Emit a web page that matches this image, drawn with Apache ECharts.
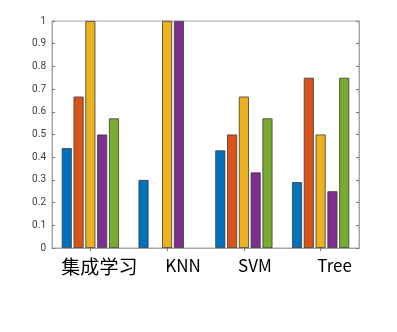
<!DOCTYPE html>
<html><head><meta charset="utf-8">
<script src="https://cdn.jsdelivr.net/npm/echarts@6/dist/echarts.min.js"></script>
<style>html,body{margin:0;padding:0;background:#fff}#c{width:397px;height:332px}</style>
</head><body><div id="c"></div>
<script>
var categories = ['集成学习', 'KNN', 'SVM', 'Tree'];
var series1 = [0.44, 0.30, 0.43, 0.29];
var series2 = [0.667, 0, 0.50, 0.75];
var series3 = [1.0, 1.0, 0.667, 0.50];
var series4 = [0.50, 1.0, 0.333, 0.25];
var series5 = [0.571, 0, 0.571, 0.75];
var yTicks = [0, 0.1, 0.2, 0.3, 0.4, 0.5, 0.6, 0.7, 0.8, 0.9, 1];

var colors = ['#0072BD', '#D95319', '#EDB120', '#7E2F8E', '#77AC30'];
var labelPad = [18, 32, 22, 28];
var labelSize = [19, 17, 17, 17];
var rich = {};
categories.forEach(function (c, i) {
  rich['l' + i] = { fontSize: labelSize[i], color: '#000', fontFamily: '"Noto Sans CJK SC", "Noto Sans", sans-serif', padding: [0, 0, 0, labelPad[i]] };
});

var chart = echarts.init(document.getElementById('c'));
var all = [series1, series2, series3, series4, series5];
chart.setOption({
  animation: false,
  grid: { left: 52, right: 38, top: 21, bottom: 84, show: true, borderColor: '#a6a6a6', borderWidth: 1 },
  xAxis: [{
    type: 'category', data: categories, position: 'bottom',
    axisLine: { lineStyle: { color: '#a6a6a6' } },
    axisTick: { show: true, inside: true, length: 3, alignWithLabel: true, lineStyle: { color: '#777' } },
    axisLabel: {
      margin: 9, interval: 0,
      formatter: function (v, i) { return '{l' + i + '|' + v + '}'; },
      rich: rich
    }
  }, {
    type: 'category', data: categories, position: 'top',
    axisLine: { lineStyle: { color: '#a6a6a6' } },
    axisTick: { show: true, inside: true, length: 3, alignWithLabel: true, lineStyle: { color: '#777' } },
    axisLabel: { show: false }
  }],
  yAxis: [{
    type: 'value', min: 0, max: 1, interval: 0.1, position: 'left',
    splitLine: { show: false },
    axisLine: { show: true, lineStyle: { color: '#a6a6a6' } },
    axisTick: { show: true, inside: true, length: 3, lineStyle: { color: '#777' } },
    axisLabel: { color: '#404040', fontSize: 10, margin: 6, fontFamily: 'Roboto, "Liberation Sans", sans-serif',
      formatter: function (v) { var s = yTicks.find(function (t) { return Math.abs(t - v) < 1e-9; }); return s === undefined ? '' : String(s); } }
  }, {
    type: 'value', min: 0, max: 1, interval: 0.1, position: 'right',
    splitLine: { show: false },
    axisLine: { show: true, lineStyle: { color: '#a6a6a6' } },
    axisTick: { show: true, inside: true, length: 3, lineStyle: { color: '#777' } },
    axisLabel: { show: false }
  }],
  series: all.map(function (d, i) {
    return {
      type: 'bar', barWidth: 10, barGap: '18%',
      data: d.map(function (v) { return v === 0 ? { value: v, itemStyle: { borderWidth: 0 } } : v; }),
      itemStyle: { color: colors[i], borderColor: '#3a3a3a', borderWidth: 0.8 }
    };
  })
});
</script></body></html>
